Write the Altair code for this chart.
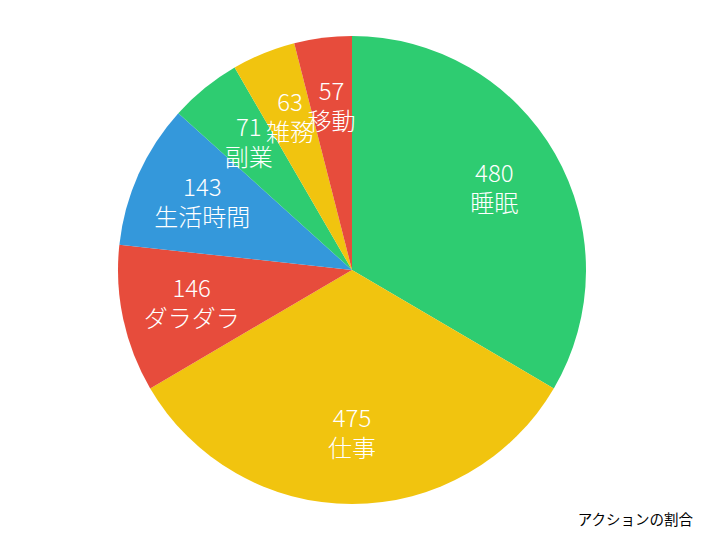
import altair as alt
import pandas as pd

# action minutes per day
labels = ["睡眠", "仕事", "ダラダラ", "生活時間", "副業", "雑務", "移動"]
minutes = [480, 475, 146, 143, 71, 63, 57]
colors = ["#2ecc71", "#f1c40f", "#e74c3c", "#3498db", "#2ecc71", "#f1c40f", "#e74c3c"]

df = pd.DataFrame({"label": labels, "minutes": minutes, "idx": list(range(len(labels)))})
df["num"] = df["minutes"].astype(str)

cx, cy = 344, 262
font = "Noto Sans CJK JP"

base = alt.Chart(df).encode(
    theta=alt.Theta("minutes:Q", stack=True),
    order=alt.Order("idx:Q"),
    x=alt.value(cx),
    y=alt.value(cy),
)

pie = base.mark_arc(outerRadius=234).encode(
    color=alt.Color("label:N", scale=alt.Scale(domain=labels, range=colors), legend=None)
)

nums = base.mark_text(radius=164, dy=-14, fontSize=24, font=font, fontWeight=300, color="white").encode(text="num:N")
names = base.mark_text(radius=164, dy=16, fontSize=24, font=font, fontWeight=300, color="white").encode(text="label:N")

chart = (pie + nums + names).properties(
    width=685,
    height=500,
    padding=0,
    title=alt.TitleParams(
        "アクションの割合", orient="bottom", anchor="end", fontSize=14.5,
        fontWeight="normal", font=font, color="black", offset=6,
    ),
).configure_view(stroke=None)

chart.save("out.html", embed_options={"renderer": "svg", "actions": False})
